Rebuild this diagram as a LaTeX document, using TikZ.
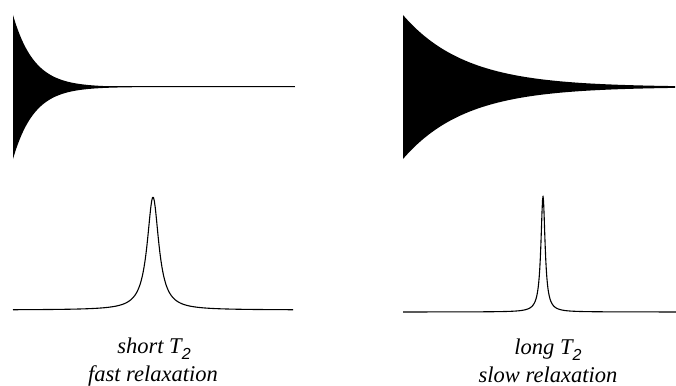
\documentclass[tikz,border=0pt]{standalone}
\usepackage{fontspec}
\setmainfont{Liberation Serif}
\newfontfamily\subfont{Liberation Sans}
\newcommand{\tsub}[1]{\raisebox{-0.3em}{\subfont\fontsize{16}{16}\selectfont #1}}

\begin{document}
\begin{tikzpicture}[x=1pt, y=-1pt,
  spec/.style={line width=1.1pt, line join=round},
  lab/.style={font=\fontsize{22.5}{28}\selectfont\itshape, inner sep=0pt}]
  \useasboundingbox (0,0) rectangle (676,385);
  % Free induction decay, short T2
  \fill[samples=200] plot[domain=13:295] (\x, {87-72*exp(-(\x-13)/21)})
    -- plot[domain=295:13] (\x, {87+72*exp(-(\x-13)/21)}) -- cycle;
  \draw[line width=1pt] (13,87) -- (295,87);
  % Free induction decay, long T2
  \fill[samples=200] plot[domain=403:675] (\x, {87-72*exp(-(\x-403)/62)})
    -- plot[domain=675:403] (\x, {87+72*exp(-(\x-403)/62)}) -- cycle;
  \draw[line width=1pt] (403,87) -- (675,87);
  % Broad line (widths in units of 10)
  \draw[spec] plot[domain=13:293, samples=300]
    (\x, {310-113*0.49/(((\x-153)/10)^2+0.49)});
  % Narrow line
  \draw[spec] plot[domain=403:676, samples=500]
    (\x, {312-116*0.0625/(((\x-543)/10)^2+0.0625)});
  % Labels
  \node[lab, anchor=base] (shortT) at (154,353) {short T\tsub{2}};
  \node[lab, anchor=base] (fastR) at (153,381) {fast relaxation};
  \node[lab, anchor=base] (longT) at (548,354) {long T\tsub{2}};
  \node[lab, anchor=base] (slowR) at (548,382) {slow relaxation};
\end{tikzpicture}
\end{document}
